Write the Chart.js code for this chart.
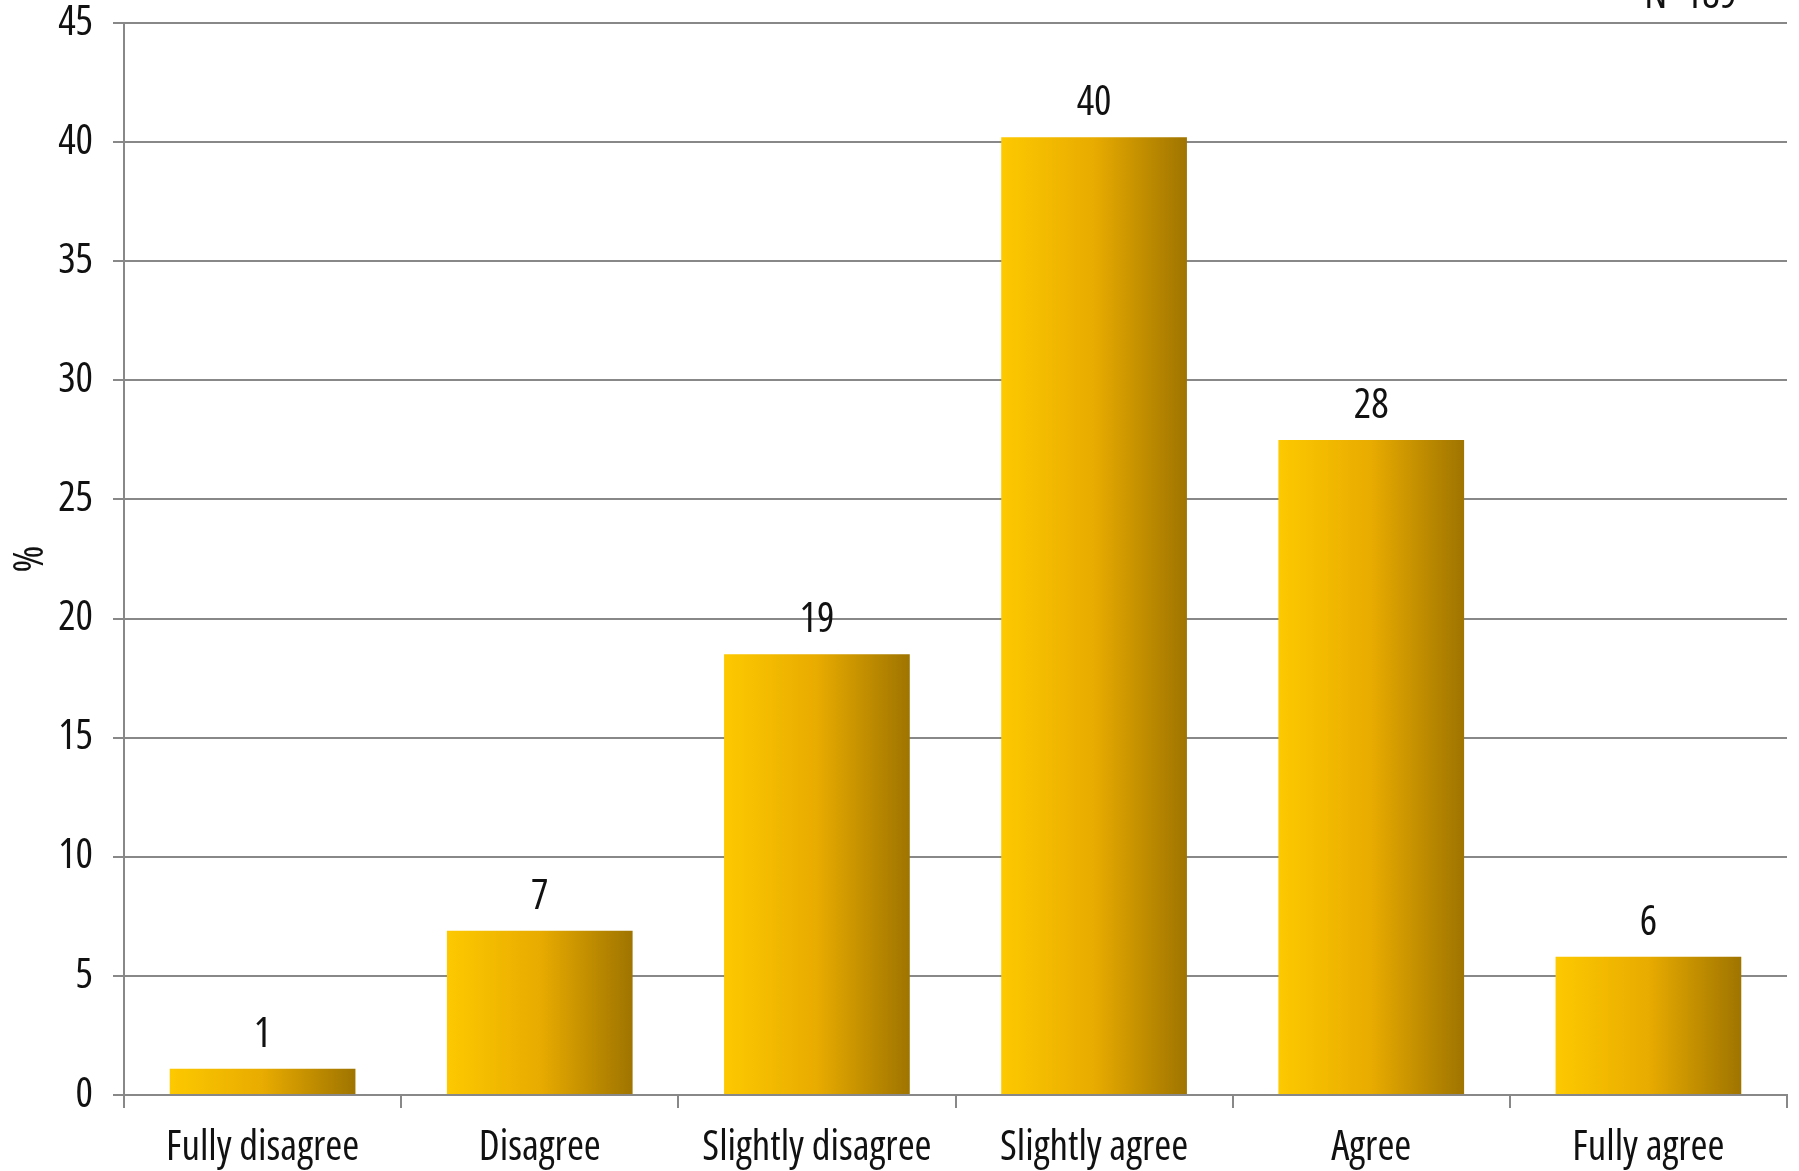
<!DOCTYPE html>
<html lang="en">

<head>
    <meta charset="UTF-8">
    <title>Agreement</title>
    <style>
        body { margin: 0; background: #fff; }
    </style>
</head>

<body>

    <canvas id="cvs" width="1799" height="1171"></canvas>
    <script src="https://cdn.jsdelivr.net/npm/chart.js@4.4.1/dist/chart.umd.min.js"></script>

    <script>
        const categories = ['Fully disagree', 'Disagree', 'Slightly disagree', 'Slightly agree', 'Agree', 'Fully agree'];
        const percents = [1.1, 6.9, 18.5, 40.2, 27.5, 5.8];
        const shownLabels = ['1', '7', '19', '40', '28', '6'];
        const yTicks = [0, 5, 10, 15, 20, 25, 30, 35, 40, 45];
        const sampleNote = 'N=189';

        // 'condensed' goes in the weight slot so Chart.js passes it into the font string
        const FONT = "'Open Sans', 'DejaVu Sans Condensed', sans-serif";
        const SIZE = 41;
        const txtFont = { family: FONT, size: SIZE, weight: 'condensed', lineHeight: 1.1 };
        const BAR_PCT = 0.67;
        const ctx = document.getElementById("cvs").getContext("2d");

        // gradient across each bar, left gold to right dark gold
        function barFill(c) {
            const chart = c.chart;
            const xs = chart.scales.x;
            if (!xs || !chart.chartArea) return '#e0a800';
            const cx = xs.getPixelForValue(c.dataIndex);
            const w = (chart.chartArea.width / categories.length) * BAR_PCT;
            const g = chart.ctx.createLinearGradient(cx - w / 2, 0, cx + w / 2, 0);
            g.addColorStop(0, '#fdc900');
            g.addColorStop(0.5, '#e8ab00');
            g.addColorStop(1, '#9f7400');
            return g;
        }

        const valueLabels = {
            id: 'valueLabels',
            afterDatasetsDraw(chart) {
                const c = chart.ctx;
                const meta = chart.getDatasetMeta(0);
                c.save();
                c.font = 'condensed ' + SIZE + 'px ' + FONT;
                c.fillStyle = '#111';
                c.textAlign = 'center';
                c.textBaseline = 'alphabetic';
                meta.data.forEach((bar, i) => {
                    c.fillText(shownLabels[i], bar.x, bar.y - 22);
                });
                // sample size note, top right (mostly cut off)
                c.textAlign = 'right';
                c.fillText(sampleNote, 1737, 8);
                c.restore();
            }
        };

        new Chart(ctx, {
            type: 'bar',
            data: {
                labels: categories,
                datasets: [{
                    data: percents,
                    backgroundColor: barFill,
                    borderWidth: 0,
                    barPercentage: BAR_PCT,
                    categoryPercentage: 1
                }]
            },
            options: {
                responsive: false,
                animation: false,
                layout: { padding: { left: 0, top: 0, right: 12, bottom: 0 } },
                plugins: {
                    legend: { display: false },
                    tooltip: { enabled: false }
                },
                scales: {
                    x: {
                        offset: true,
                        grid: {
                            offset: true,
                            drawOnChartArea: false,
                            drawTicks: true,
                            tickLength: 13,
                            color: '#888',
                            lineWidth: 2
                        },
                        border: { color: '#888', width: 2 },
                        ticks: {
                            color: '#111',
                            font: txtFont,
                            padding: 18,
                            autoSkip: false,
                            maxRotation: 0
                        },
                        afterFit(s) { s.height = 76; }
                    },
                    y: {
                        min: 0,
                        max: 45,
                        afterBuildTicks(s) { s.ticks = yTicks.map(v => ({ value: v })); },
                        grid: {
                            color: '#888',
                            lineWidth: 2,
                            tickLength: 11
                        },
                        border: { color: '#888', width: 2 },
                        ticks: {
                            color: '#111',
                            font: txtFont,
                            padding: 20
                        },
                        title: {
                            display: true,
                            text: '%',
                            color: '#111',
                            font: txtFont,
                            padding: { top: 9, bottom: 0 }
                        },
                        afterFit(s) {
                            s.width = 124;
                            s.paddingTop = 23;
                        }
                    }
                }
            },
            plugins: [valueLabels]
        });
    </script>
</body>

</html>
